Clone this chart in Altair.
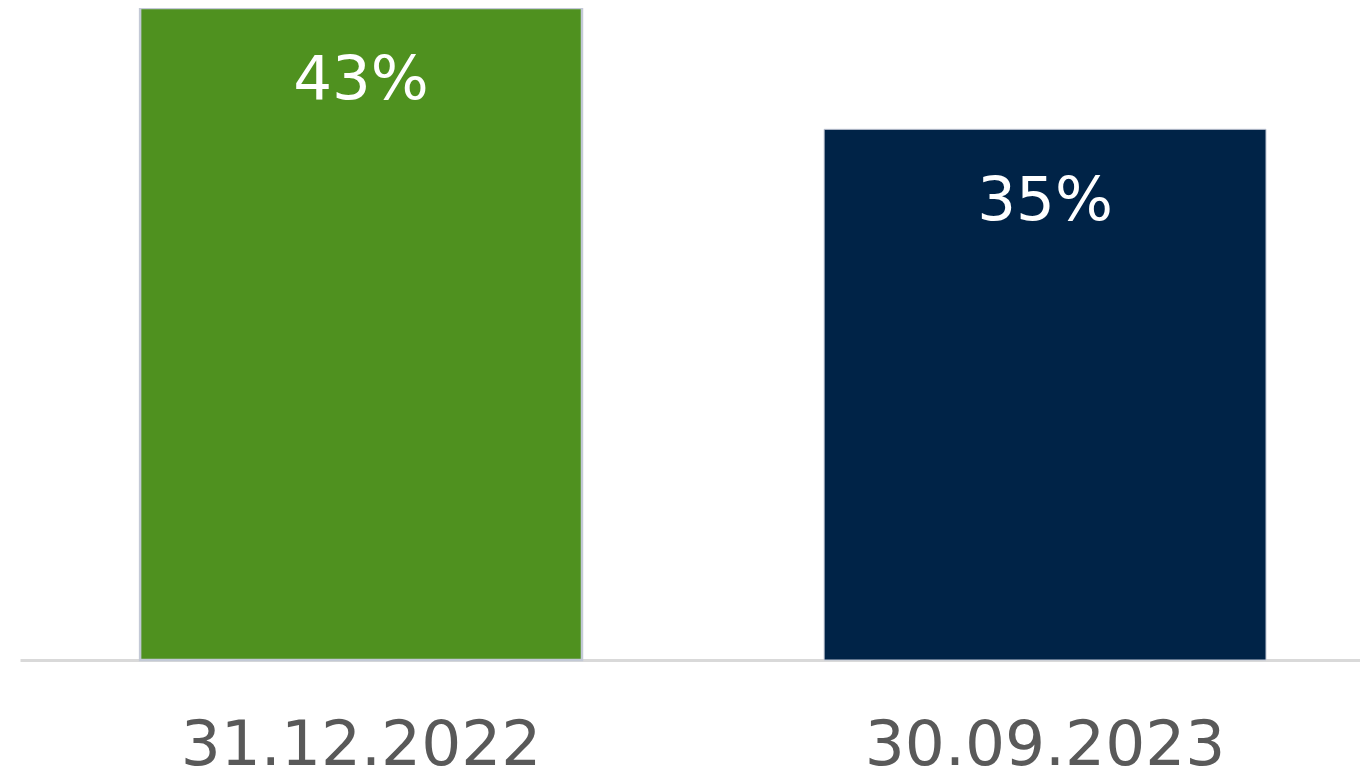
import altair as alt
import pandas as pd

dates = ["31.12.2022", "30.09.2023"]
values = [43, 35]
labels = ["43%", "35%"]

df = pd.DataFrame({"date": dates, "value": values, "label": labels})

FONT = "DejaVu Sans"

x = alt.X("date:N", sort=dates, title=None,
          scale=alt.Scale(paddingInner=0.354, paddingOuter=0.1565, align=0.561),
          axis=alt.Axis(labelAngle=0, ticks=False, tickSize=0, grid=False,
                        domainColor="#d9d9d9", domainWidth=3,
                        labelFont=FONT, labelFontSize=63, labelColor="#595959",
                        labelPadding=54, labelLimit=0))
y = alt.Y("value:Q", title=None, scale=alt.Scale(domain=[0, 43], nice=False),
          axis=None)

bars = alt.Chart(df).mark_bar(strokeOpacity=1).encode(
    x=x, y=y,
    color=alt.Color("date:N", sort=dates, legend=None,
                    scale=alt.Scale(domain=dates, range=["#4f911f", "#002347"])),
    stroke=alt.value("#c3c9d6"),
    strokeWidth=alt.condition(alt.datum.date == "31.12.2022", alt.value(2.5), alt.value(1)),
)

text = alt.Chart(df).mark_text(font=FONT, fontSize=61, color="white",
                               baseline="alphabetic", dy=91).encode(
    x=alt.X("date:N", sort=dates), y="value:Q", text="label:N")

chart = alt.layer(bars, text).properties(
    width=1340, height=652,
    autosize=alt.AutoSizeParams(type="none"),
    padding={"left": 12, "top": 0, "right": 0, "bottom": 112},
).configure_view(stroke=None)

chart.save("out.html", embed_options={"renderer": "svg", "actions": False})
